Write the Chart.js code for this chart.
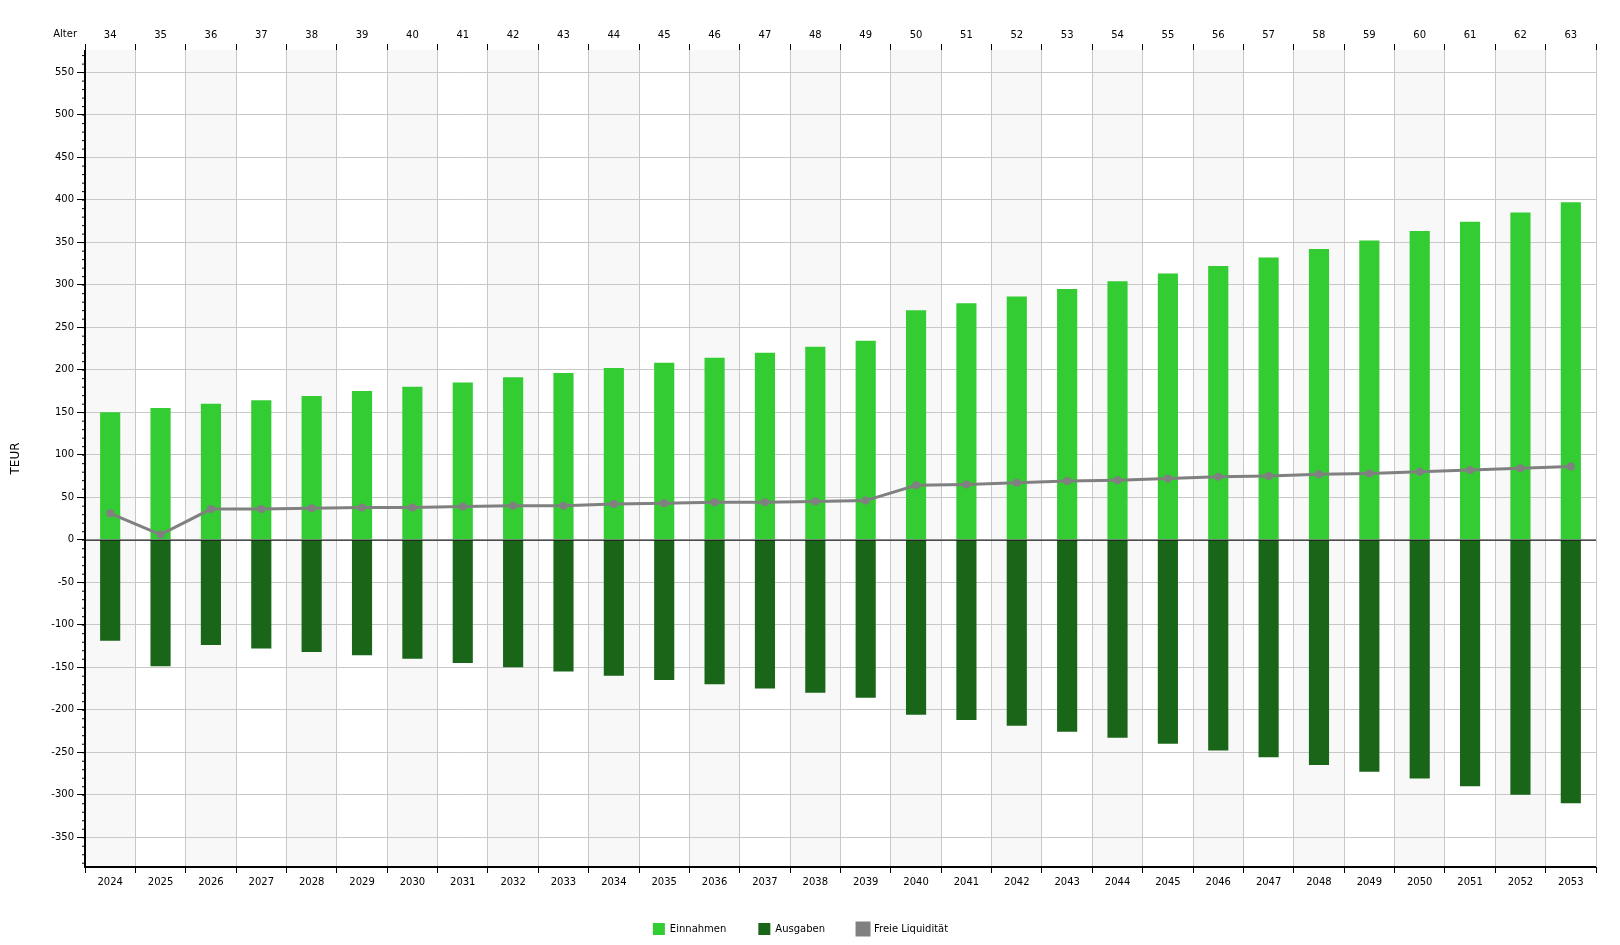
<!DOCTYPE html>
<html><head><meta charset="utf-8">
<script src="https://cdn.jsdelivr.net/npm/chart.js@4"></script>
<style>html,body{margin:0;padding:0;background:#fff}#w{width:1620px;height:945px}</style>
</head><body><div id="w"><canvas id="c"></canvas></div>
<script>
const years = [2024,2025,2026,2027,2028,2029,2030,2031,2032,2033,2034,2035,2036,2037,2038,2039,2040,2041,2042,2043,2044,2045,2046,2047,2048,2049,2050,2051,2052,2053].map(String);
const ages = [34,35,36,37,38,39,40,41,42,43,44,45,46,47,48,49,50,51,52,53,54,55,56,57,58,59,60,61,62,63].map(String);
const einnahmen = [150,155,160,164,169,175,180,185,191,196,202,208,214,220,227,234,270,278,286,295,304,313,322,332,342,352,363,374,385,397];
const ausgaben = [-119,-149,-124,-128,-132,-136,-140,-145,-150,-155,-160,-165,-170,-175,-180,-186,-206,-212,-219,-226,-233,-240,-248,-256,-265,-273,-281,-290,-300,-310];
const liquiditaet = [31,6,36,36,37,38,38,39,40,40,42,43,44,44,45,46,64,65,67,69,70,72,74,75,77,78,80,82,84,86];

const bgPlugin = {
  id:'bg',
  beforeDraw(ch){
    const {ctx, chartArea:a} = ch;
    const w = (a.right-a.left)/years.length;
    ctx.save();
    ctx.fillStyle = '#f8f8f8';
    for(let i=0;i<years.length;i+=2){ ctx.fillRect(a.left+i*w, a.top, w, a.bottom-a.top); }
    ctx.restore();
  },
  afterDatasetsDraw(ch){
    const {ctx, chartArea:a, scales:{y, x2}} = ch;
    const y0 = y.getPixelForValue(0);
    ctx.save();
    ctx.strokeStyle='#000'; ctx.lineWidth=1;
    ctx.beginPath(); ctx.moveTo(a.left,y0+0.5); ctx.lineTo(a.right,y0+0.5); ctx.stroke();
    ctx.lineWidth=2;
    ctx.beginPath(); ctx.moveTo(a.left,a.top); ctx.lineTo(a.left,a.bottom); ctx.lineTo(a.right,a.bottom); ctx.stroke();
    ctx.lineWidth=1;
    for(let v=-380; v<=570; v+=10){
      const p=y.getPixelForValue(v);
      ctx.beginPath(); ctx.moveTo(a.left-3,p+0.5); ctx.lineTo(a.left,p+0.5); ctx.stroke();
    }
    ctx.fillStyle='#000'; ctx.font='10px "DejaVu Sans"'; ctx.textAlign='right'; ctx.textBaseline='middle';
    ctx.fillText('Alter', a.left-8, 34);
    ctx.restore();
  }
};

new Chart(document.getElementById('c'), {
  data:{
    labels: years,
    datasets:[
      {type:'line', label:'Freie Liquidität', data:liquiditaet, borderColor:'#808080', backgroundColor:'#808080', borderWidth:3, pointRadius:4, pointBackgroundColor:'#808080', pointBorderWidth:0, order:0},
      {type:'bar', label:'Einnahmen', data:einnahmen, backgroundColor:'#33cc33', barPercentage:0.4, categoryPercentage:1, order:1},
      {type:'bar', label:'Ausgaben', data:ausgaben, backgroundColor:'#196619', barPercentage:0.4, categoryPercentage:1, order:2}
    ]
  },
  options:{
    responsive:true, maintainAspectRatio:false, animation:false,
    layout:{padding:{left:5,right:24,top:26,bottom:0}},
    plugins:{
      legend:{position:'bottom', labels:{font:{family:'DejaVu Sans',size:10},color:'#000',boxWidth:12,boxHeight:12,padding:32,
        generateLabels(ch){ return [
          {text:'Einnahmen',fillStyle:'#33cc33',strokeStyle:'#33cc33',lineWidth:0,datasetIndex:1},
          {text:'Ausgaben',fillStyle:'#196619',strokeStyle:'#196619',lineWidth:0,datasetIndex:2},
          {text:'Freie Liquidität',fillStyle:'#808080',strokeStyle:'#808080',lineWidth:3,datasetIndex:0,pointStyle:'line'}
        ];}}},
      tooltip:{enabled:false}
    },
    scales:{
      x:{stacked:true, offset:true, grid:{offset:true,color:'#c8c8c8',tickLength:6,tickColor:'#000'}, border:{display:false},
        ticks:{font:{family:'DejaVu Sans',size:10},color:'#000',maxRotation:0,autoSkip:false}},
      x2:{type:'category', labels:ages, position:'top', offset:true, grid:{offset:true,display:true,drawOnChartArea:false,tickLength:6,tickColor:'#000'}, border:{display:false},
        ticks:{font:{family:'DejaVu Sans',size:10},color:'#000',maxRotation:0,autoSkip:false}},
      y:{stacked:false, min:-385, max:576, afterBuildTicks(s){ s.ticks=[]; for(let v=-350;v<=550;v+=50) s.ticks.push({value:v}); },
        afterFit(s){ s.width=80; },
        grid:{color:'#c8c8c8',tickLength:8,tickColor:'#000'}, border:{display:false},
        title:{display:true,text:'TEUR',font:{family:'DejaVu Sans',size:12},color:'#000'},
        ticks:{font:{family:'DejaVu Sans',size:10},color:'#000'}}
    }
  },
  plugins:[bgPlugin]
});
</script></body></html>
